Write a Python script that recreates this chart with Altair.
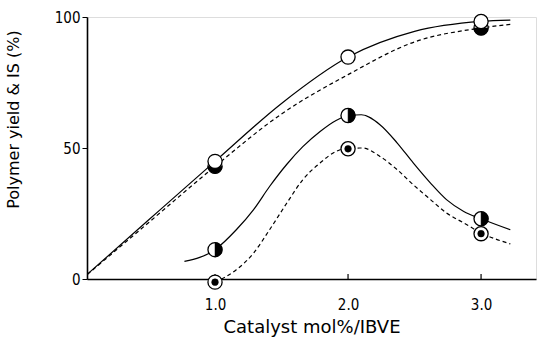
import altair as alt
import pandas as pd

# ---- data ----
# curve traces (x = catalyst mol%/IBVE, y = %)
yield_solid_x = [0.0, 0.5, 1.0, 1.5, 2.0, 2.5, 3.0, 3.22]
yield_solid_y = [0.0, 22.5, 44.9, 67.0, 84.7, 94.5, 98.3, 98.8]
yield_dash_x = [0.0, 0.5, 1.0, 1.5, 2.0, 2.5, 3.0, 3.22]
yield_dash_y = [0.0, 21.5, 43.0, 63.0, 78.0, 90.5, 95.8, 97.2]
is_solid_x = [0.77, 1.0, 1.16, 1.29, 1.41, 1.54, 1.66, 1.79, 1.91, 2.01, 2.10,
              2.24, 2.37, 2.49, 2.62, 2.74, 2.87, 3.0, 3.22]
is_solid_y = [6.7, 11.2, 18.8, 26.5, 35.3, 43.8, 50.5, 56.3, 60.5, 62.4, 62.7,
              58.9, 51.9, 44.3, 36.6, 30.3, 25.8, 23.0, 18.8]
is_dash_x = [1.0, 1.16, 1.29, 1.41, 1.54, 1.66, 1.79, 1.91, 1.99, 2.11, 2.24,
             2.37, 2.49, 2.62, 2.74, 2.87, 3.0, 3.22]
is_dash_y = [-1.2, 3.5, 9.9, 18.8, 29.0, 37.9, 44.3, 48.7, 49.9, 50.0, 46.8,
             41.7, 36.0, 30.3, 25.2, 21.4, 17.6, 13.4]

# measured points
open_x = [1.0, 2.0, 3.0]
open_y = [44.9, 84.7, 98.3]
bottom_half_x = [1.0, 3.0]
bottom_half_y = [43.0, 95.8]
right_half_x = [1.0, 2.0, 3.0]
right_half_y = [11.2, 62.4, 23.0]
dotted_x = [1.0, 2.0, 3.0]
dotted_y = [-1.2, 49.7, 17.3]

x_ticks = [1.0, 2.0, 3.0]
y_ticks = [0, 50, 100]

W, H = 449, 262
XDOM = [0.0376, 3.413]
FONT = "DejaVu Sans"
COND = "DejaVu Sans Condensed, Liberation Sans Narrow, DejaVu Sans"

xs = alt.Scale(domain=XDOM, nice=False, zero=False)
ys = alt.Scale(domain=[0, 100], nice=False)

def frame(xv, yv):
    return pd.DataFrame({"x": xv, "y": yv})

xenc = alt.X("x:Q", scale=xs,
             axis=alt.Axis(values=x_ticks, format=".1f", title="Catalyst  mol%/IBVE",
                           grid=False, ticks=False, domainColor="black", domainWidth=1.6,
                           labelFont=COND, labelFontSize=15, labelColor="black",
                           labelPadding=18, titleFont=FONT, titleFontSize=18,
                           titleFontWeight="normal", titleColor="black", titlePadding=6))
yenc = alt.Y("y:Q", scale=ys,
             axis=alt.Axis(values=y_ticks, title="Polymer yield & IS (%)", grid=False,
                           tickSize=5, tickColor="black", domainColor="black", domainWidth=1.6,
                           labelFont=COND, labelFontSize=15, labelColor="black",
                           labelPadding=2, titleFont=FONT, titleFontSize=16,
                           titleFontWeight="normal", titleColor="black",
                           titleX=-66, titleY=102))

def line(xv, yv, dashed):
    kw = dict(color="black", strokeWidth=1.2, interpolate="monotone", clip=True)
    if dashed:
        kw["strokeDash"] = [4, 3]
    return alt.Chart(frame(xv, yv)).mark_line(**kw).encode(
        x=alt.X("x:Q", scale=xs), y=alt.Y("y:Q", scale=ys))

def pts(xv, yv, **kw):
    return alt.Chart(frame(xv, yv)).mark_point(**kw).encode(
        x=alt.X("x:Q", scale=xs), y=alt.Y("y:Q", scale=ys))

SZ = 200
RIGHT_HALF = "M0,-1 A1,1 0 0,1 0,1 Z"
BOTTOM_HALF = "M-1,0 A1,1 0 0,0 1,0 Z"

base = alt.Chart(frame([0], [0])).mark_point(opacity=0).encode(x=xenc, y=yenc)

tick_marks = alt.Chart(pd.DataFrame({"x": x_ticks})).mark_rule(
    color="black", strokeWidth=1.2).encode(
    x=alt.X("x:Q", scale=xs), y=alt.value(H - 5), y2=alt.value(H))

layers = [
    base,
    line(yield_solid_x, yield_solid_y, False),
    line(yield_dash_x, yield_dash_y, True),
    line(is_solid_x, is_solid_y, False),
    line(is_dash_x, is_dash_y, True),
    tick_marks,
    # bottom-half filled circles
    pts(bottom_half_x, bottom_half_y, shape="circle", size=SZ, filled=True,
        fill="white", stroke="black", strokeWidth=1.3, opacity=1),
    pts(bottom_half_x, bottom_half_y, shape=BOTTOM_HALF, size=SZ, filled=True,
        fill="black", stroke="black", strokeWidth=0.5, opacity=1),
    # open circles
    pts(open_x, open_y, shape="circle", size=SZ, filled=True,
        fill="white", stroke="black", strokeWidth=1.3, opacity=1),
    # right-half filled circles
    pts(right_half_x, right_half_y, shape="circle", size=SZ, filled=True,
        fill="white", stroke="black", strokeWidth=1.3, opacity=1),
    pts(right_half_x, right_half_y, shape=RIGHT_HALF, size=SZ, filled=True,
        fill="black", stroke="black", strokeWidth=0.5, opacity=1),
    # circle with dot
    pts(dotted_x, dotted_y, shape="circle", size=SZ, filled=True,
        fill="white", stroke="black", strokeWidth=1.3, opacity=1),
    pts(dotted_x, dotted_y, shape="circle", size=45, filled=True,
        fill="black", stroke="black", strokeWidth=0.5, opacity=1),
]

chart = alt.layer(*layers).properties(
    width=W, height=H,
    autosize=alt.AutoSizeParams(type="none"),
    padding={"left": 87, "top": 17, "right": 1, "bottom": 67},
).configure_view(stroke=None).configure(background="white")

chart.save("out.html", embed_options={"renderer": "svg", "actions": False})
